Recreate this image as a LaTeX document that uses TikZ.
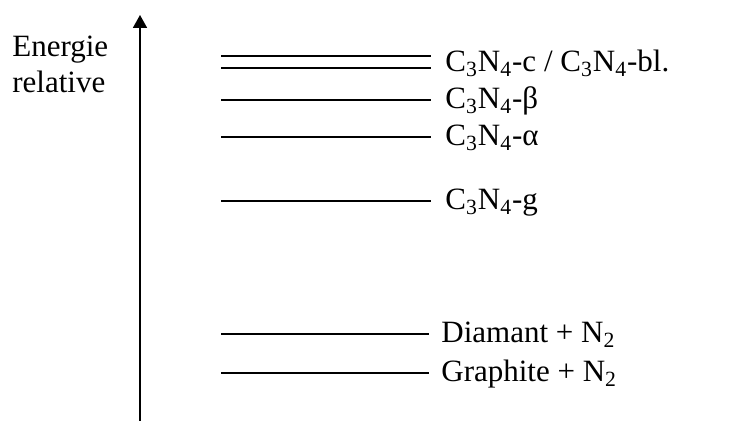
\documentclass[tikz,border=0pt]{standalone}
\usepackage{fontspec}
\setmainfont{Liberation Serif}
\usetikzlibrary{arrows.meta,positioning}
\tikzset{%
  level/.style={line width=1pt},
  lbl/.style={anchor=base west,inner sep=0pt},
  axis/.style={-{Triangle[length=6.5pt,width=7pt]}, line width=0.9pt}%
}
\newcommand{\cn}{C\textsubscript{3}N\textsubscript{4}}

\begin{document}
\begin{tikzpicture}[x=0.5pt,y=-0.5pt,
    font=\fontsize{15.5}{18}\selectfont
]
\useasboundingbox (0,0) rectangle (754,442);

% Energy axis
\coordinate (bot) at (140,421);
\coordinate (top) at (140,15);
\draw[axis] (bot) -- (top);
\node[anchor=north west,inner sep=0pt,align=left] (ener) at (12,36) {Energie\\relative};

% C3N4 levels
\coordinate (cubA) at (221,56);  \coordinate (cubB) at (431,56);
\coordinate (blA) at (221,68);   \coordinate (blB) at (431,68);
\coordinate (betaA) at (221,100); \coordinate (betaB) at (431,100);
\coordinate (alphaA) at (221,137); \coordinate (alphaB) at (431,137);
\coordinate (gA) at (221,201);   \coordinate (gB) at (431,201);
\draw[level] (cubA) -- (cubB);
\draw[level] (blA) -- (blB);
\draw[level] (betaA) -- (betaB);
\draw[level] (alphaA) -- (alphaB);
\draw[level] (gA) -- (gB);

\node[lbl] (cub) at (445,72) {\cn-c / \cn-bl.};
\node[lbl] (beta) at (445,109) {\cn-β};
\node[lbl] (alpha) at (445,146) {\cn-α};
\node[lbl] (gra) at (445,210) {\cn-g};

% Reference levels
\coordinate (diaA) at (221,334); \coordinate (diaB) at (429,334);
\coordinate (grA) at (221,373);  \coordinate (grB) at (429,373);
\draw[level] (diaA) -- (diaB);
\draw[level] (grA) -- (grB);

\node[lbl] (dia) at (441,343) {Diamant + N\textsubscript{2}};
\node[lbl] (graph) at (441,382) {Graphite + N\textsubscript{2}};

\end{tikzpicture}
\end{document}
